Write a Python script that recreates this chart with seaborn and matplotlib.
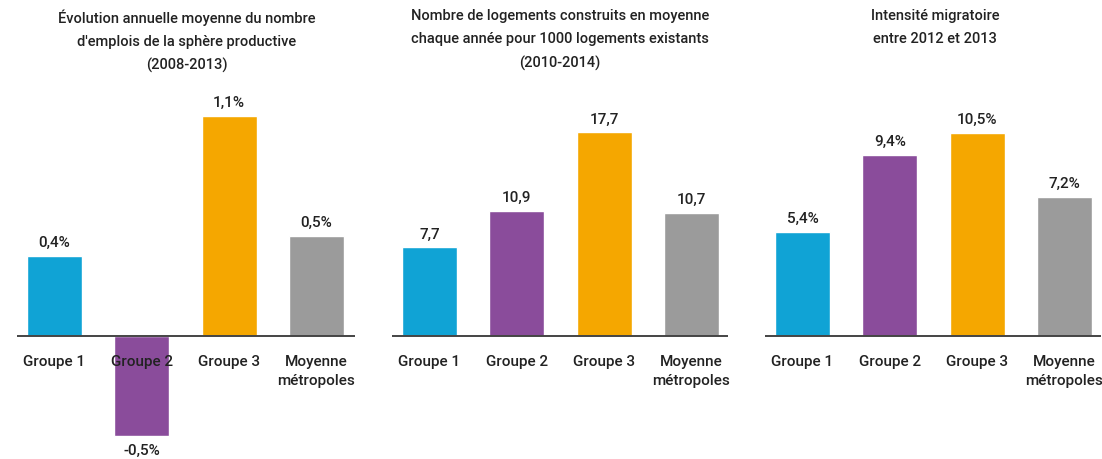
import matplotlib
matplotlib.use("Agg")
import matplotlib.pyplot as plt
import seaborn as sns

# données des trois panneaux
categories = ["Groupe 1", "Groupe 2", "Groupe 3", "Moyenne\nmétropoles"]
emplois = [0.4, -0.5, 1.1, 0.5]
logements = [7.7, 10.9, 17.7, 10.7]
migration = [5.4, 9.4, 10.5, 7.2]

labels_emplois = ["0,4%", "-0,5%", "1,1%", "0,5%"]
labels_logements = ["7,7", "10,9", "17,7", "10,7"]
labels_migration = ["5,4%", "9,4%", "10,5%", "7,2%"]

titles = [
    "Évolution annuelle moyenne du nombre\nd'emplois de la sphère productive\n(2008-2013)",
    "Nombre de logements construits en moyenne\nchaque année pour 1000 logements existants\n(2010-2014)",
    "Intensité migratoire\nentre 2012 et 2013",
]

colors = ["#10a3d5", "#8a4c9b", "#f5a700", "#9b9b9b"]

sns.set_theme(style="white")
plt.rcParams["font.family"] = ["Roboto", "DejaVu Sans"]
TXT = "#222222"

W, H = 1102, 460
fig = plt.figure(figsize=(W / 100, H / 100), dpi=100)
fig.patch.set_facecolor("white")

# position des panneaux en pixels : gauche, droite, échelle (px par unité), centre du titre
panels = [
    (17, 355, 200.0, 187, emplois, labels_emplois),
    (392, 728, 11.5, 560, logements, labels_logements),
    (765, 1101, 19.3, 935, migration, labels_migration),
]
top_px, bottom_px, base_px = 100, 460, 337
spacing = 87.3

for k, (x0, x1, scale, tx, vals, labs) in enumerate(panels):
    ax = fig.add_axes([x0 / W, 1 - bottom_px / H, (x1 - x0) / W, (bottom_px - top_px) / H])
    sns.barplot(x=categories, y=vals, hue=categories, palette=colors,
                width=0.63, legend=False, saturation=1, ax=ax)
    left = -(37.5 / spacing)
    ax.set_xlim(left, left + (x1 - x0) / spacing)
    ax.set_ylim(-(bottom_px - base_px) / scale, (base_px - top_px) / scale)
    ax.axhline(0, color="#444444", lw=1.4, zorder=3)
    ax.axis("off")

    for i, (v, lab) in enumerate(zip(vals, labs)):
        if v >= 0:
            ax.annotate(lab, (i, v), xytext=(0, 5), textcoords="offset points",
                        ha="center", va="bottom", fontsize=11, color=TXT,
                        fontweight="medium")
        else:
            ax.annotate(lab, (i, v), xytext=(0, -5), textcoords="offset points",
                        ha="center", va="top", fontsize=11, color=TXT,
                        fontweight="medium")
        ax.annotate(categories[i], (i, 0), xytext=(0, -13), textcoords="offset points",
                    ha="center", va="top", fontsize=11, color=TXT,
                    linespacing=1.45, zorder=5, fontweight="medium")

    fig.text(tx / W, 1 - 9 / H, titles[k], ha="center", va="top",
             fontsize=10.5, color=TXT, linespacing=1.82, fontweight="medium")

fig.savefig("out.png", dpi=100, facecolor="white")
